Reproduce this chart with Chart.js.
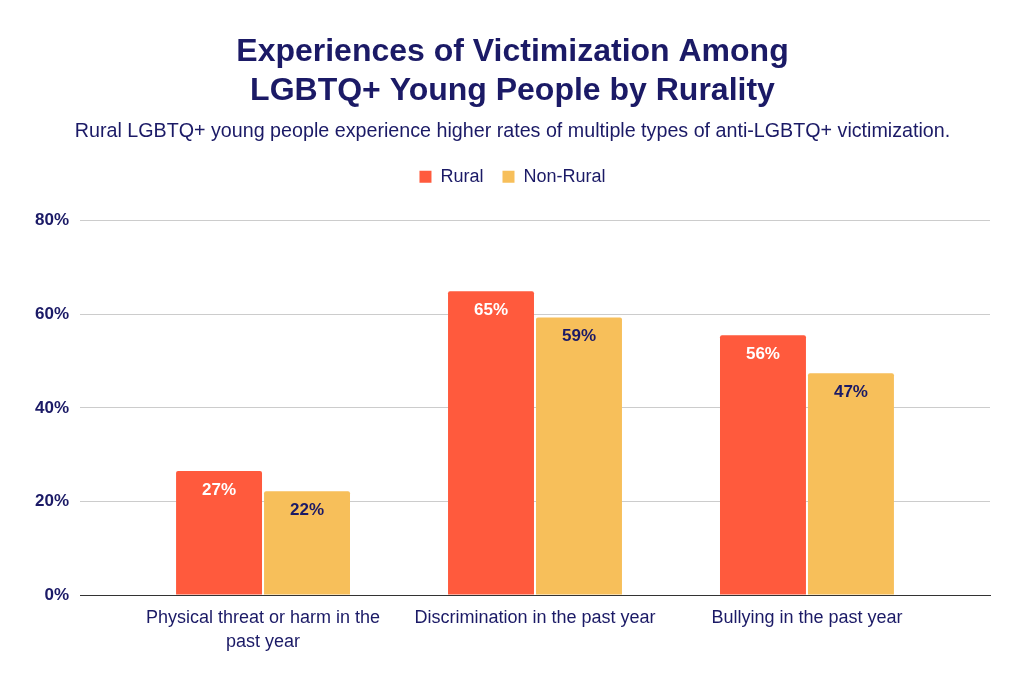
<!DOCTYPE html>
<html>
<head>
<meta charset="utf-8">
<script src="https://cdn.jsdelivr.net/npm/chart.js@4.4.1/dist/chart.umd.min.js"></script>
<style>
  html, body { margin: 0; padding: 0; background: #ffffff; }
  #wrap { width: 1025px; height: 682px; position: relative; }
</style>
</head>
<body>
<div id="wrap"><canvas id="c"></canvas></div>
<script>
const categories = [
  ["Physical threat or harm in the", "past year"],
  "Discrimination in the past year",
  "Bullying in the past year"
];
const seriesNames = ["Rural", "Non-Rural"];
const ruralValues = [26.5, 64.9, 55.5];
const nonRuralValues = [22.2, 59.3, 47.4];
const yTicks = [0, 20, 40, 60, 80];

const NAVY = '#1b1a66';
const RURAL = '#FF5A3D';
const NONRURAL = '#F7BF5A';
const FONT = "'Liberation Sans', Arial, sans-serif";

const toPoints = arr => arr.map((v, i) => ({ x: i, y: v }));

const valueLabels = {
  id: 'valueLabels',
  afterDatasetsDraw(chart) {
    const ctx = chart.ctx;
    ctx.save();
    ctx.font = "bold 17px " + FONT;
    ctx.textAlign = 'center';
    ctx.textBaseline = 'middle';
    chart.data.datasets.forEach((ds, di) => {
      const meta = chart.getDatasetMeta(di);
      ctx.fillStyle = di === 0 ? '#ffffff' : NAVY;
      meta.data.forEach((bar, i) => {
        const v = ds.data[i].y;
        ctx.fillText(Math.round(v) + '%', bar.x, bar.y + 19);
      });
    });
    ctx.restore();
  }
};

const legendGap = {
  id: 'legendGap',
  beforeInit(chart) {
    const origFit = chart.legend.fit;
    chart.legend.fit = function () {
      origFit.call(this);
      this.height += 25;
    };
  }
};

new Chart(document.getElementById('c'), {
  type: 'bar',
  data: {
    datasets: [
      { label: seriesNames[0], data: toPoints(ruralValues), backgroundColor: RURAL, borderRadius: { topLeft: 2, topRight: 2 }, borderSkipped: 'bottom' },
      { label: seriesNames[1], data: toPoints(nonRuralValues), backgroundColor: NONRURAL, borderRadius: { topLeft: 2, topRight: 2 }, borderSkipped: 'bottom' }
    ]
  },
  options: {
    responsive: true,
    maintainAspectRatio: false,
    animation: false,
    categoryPercentage: 0.647,
    barPercentage: 0.977,
    layout: { padding: { top: 20, left: 35, right: 35, bottom: 0 } },
    plugins: {
      title: {
        display: true,
        text: ["Experiences of Victimization Among", "LGBTQ+ Young People by Rurality"],
        color: NAVY,
        font: { family: FONT, size: 32, weight: 'bold', lineHeight: 1.22 },
        padding: { top: 13, bottom: 6 }
      },
      subtitle: {
        display: true,
        text: "Rural LGBTQ+ young people experience higher rates of multiple types of anti-LGBTQ+ victimization.",
        color: NAVY,
        font: { family: FONT, size: 19.7, weight: 'normal', lineHeight: 1.2 },
        padding: { top: 3, bottom: 5 }
      },
      legend: {
        display: true,
        position: 'top',
        labels: {
          color: NAVY,
          font: { family: FONT, size: 18 },
          boxWidth: 12,
          boxHeight: 12,
          padding: 19
        }
      },
      tooltip: { enabled: false }
    },
    scales: {
      x: {
        type: 'linear',
        min: -0.673,
        max: 2.673,
        offset: false,
        grid: { display: false, offset: false },
        border: { display: true, color: '#333333', width: 1 },
        afterBuildTicks(scale) {
          scale.ticks = categories.map((c, i) => ({ value: i }));
        },
        afterFit(scale) { scale.height = 87; },
        ticks: {
          color: NAVY,
          autoSkip: false,
          maxRotation: 0,
          padding: 4,
          font: { family: FONT, size: 18, lineHeight: 1.28 },
          callback: (v) => categories[v]
        }
      },
      y: {
        min: 0,
        max: 80,
        afterBuildTicks(scale) {
          scale.ticks = yTicks.map(v => ({ value: v }));
        },
        afterFit(scale) { scale.width = 45; },
        grid: {
          color: (c) => c.tick && c.tick.value === 0 ? '#333333' : '#cccccc',
          drawTicks: false
        },
        border: { display: false },
        ticks: {
          color: NAVY,
          padding: 11,
          font: { family: FONT, size: 17, weight: 'bold' },
          callback: (v) => v + '%'
        }
      }
    }
  },
  plugins: [valueLabels, legendGap]
});
</script>
</body>
</html>
